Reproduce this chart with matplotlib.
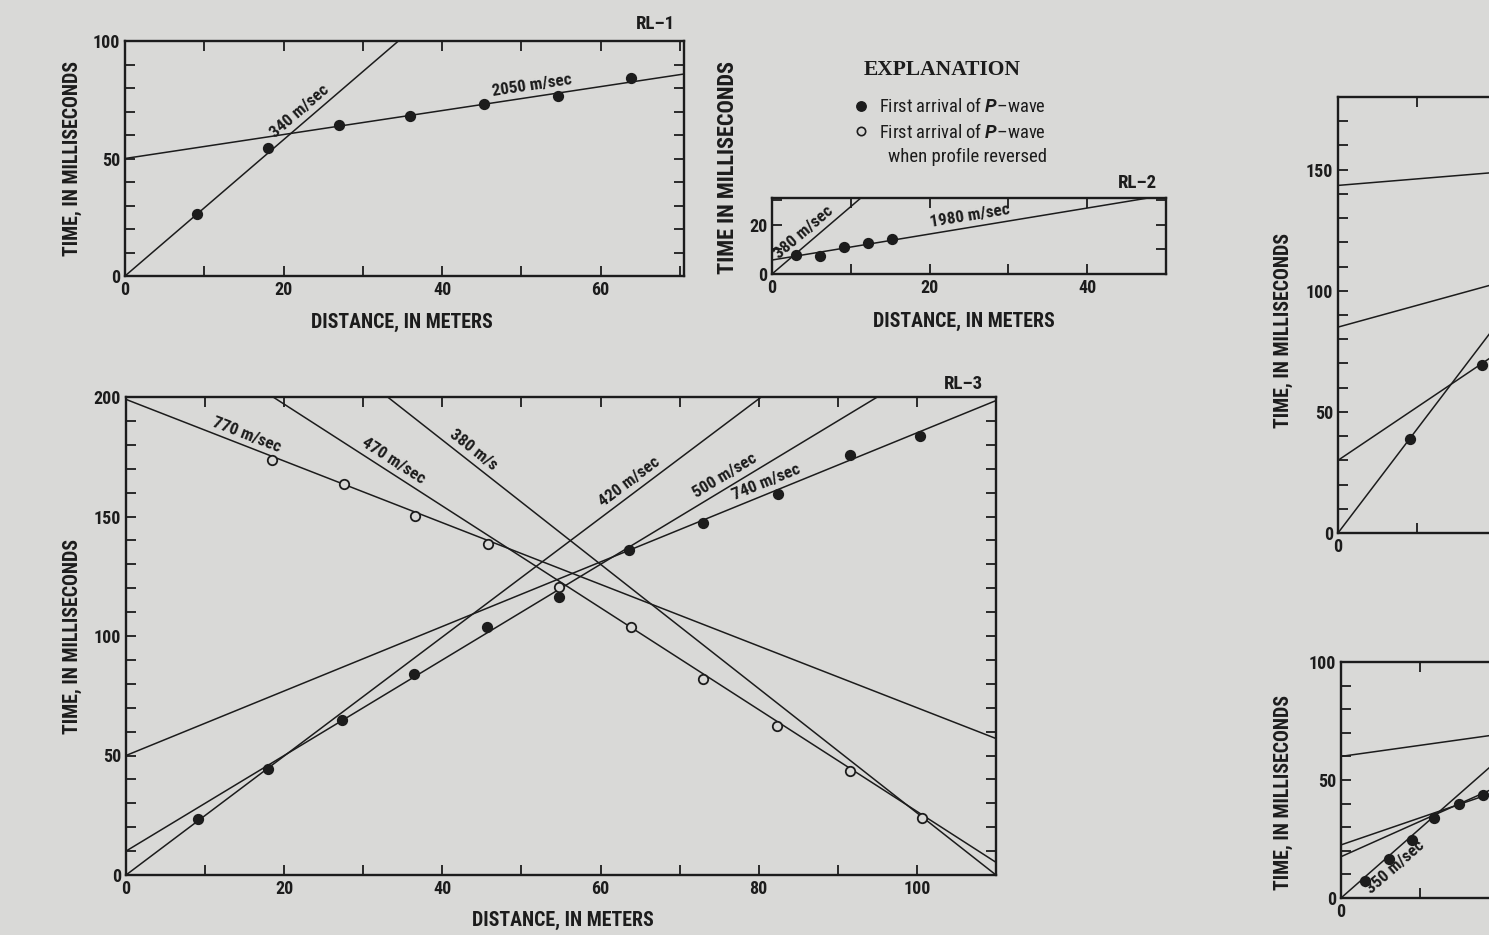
import numpy as np
import matplotlib
matplotlib.use("Agg")
import matplotlib.pyplot as plt

W, H = 1489, 935
BG = "#d9d9d7"
INK = "#1c1c1c"
NARROW = ["Roboto Condensed", "Liberation Sans Narrow", "Roboto", "DejaVu Sans"]

plt.rcParams["font.family"] = NARROW
plt.rcParams["font.weight"] = "bold"
plt.rcParams["mathtext.fontset"] = "custom"
plt.rcParams["mathtext.it"] = "Roboto:italic"
plt.rcParams["mathtext.rm"] = "Roboto"

# ---- data (distance m, time ms) ----
# RL-1
rl1_x = [9.1, 18.0, 27.0, 35.9, 45.3, 54.6, 63.8]
rl1_t = [26.4, 54.5, 64.3, 68.1, 73.2, 76.6, 84.3]
rl1_t0 = [0, 50]
rl1_slope = [2.9, 0.51]
rl1_labels = ["340 m/sec", "2050 m/sec"]
rl1_label_x = [23.0, 51.5]

# RL-2
rl2_x = [3.0, 6.1, 9.2, 12.2, 15.2]
rl2_t = [7.8, 7.3, 11.1, 12.8, 14.2]
rl2_t0 = [0, 5.7]
rl2_slope = [2.75, 0.53]
rl2_labels = ["380 m/sec", "1980 m/sec"]
rl2_label_x = [5.0, 25.3]

# RL-3, forward shot (filled) and reversed shot (open)
rl3_x = [9.1, 18.0, 27.3, 36.4, 45.7, 54.8, 63.6, 73.0, 82.4, 91.5, 100.4]
rl3_t = [23.3, 44.5, 64.9, 84.0, 103.8, 116.4, 136.0, 147.3, 159.3, 175.7, 183.8]
rl3_rev_x = [18.4, 27.5, 36.5, 45.8, 54.8, 63.9, 73.0, 82.3, 91.5, 100.7]
rl3_rev_t = [173.6, 163.5, 150.2, 138.4, 120.6, 103.9, 81.9, 62.2, 43.5, 24.0]
rl3_t0 = [0, 10, 50, 199, 239.6, 286]
rl3_slope = [2.49, 2.0, 1.35, -1.29, -2.13, -2.6]
rl3_labels = ["420 m/sec", "500 m/sec", "740 m/sec", "770 m/sec", "470 m/sec", "380 m/s"]
rl3_label_x = [64.5, 76.5, 81.5, 14.8, 33.0, 43.0]

# partly visible panels on the right edge
ru_x = [9.1, 18.2]
ru_t = [38.8, 69.4]
ru_t0 = [0, 30, 85, 143.5]
ru_slope = [4.3, 2.2, 0.9, 0.27]

rd_x = [3.0, 6.0, 9.0, 11.7, 14.9, 17.9]
rd_t = [7.3, 16.5, 24.6, 34.0, 39.7, 43.6]
rd_t0 = [0, 17.5, 22.5, 60]
rd_slope = [2.95, 1.5, 1.15, 0.47]

TICK_FS = 13
LAB_FS = 14.3
LINE_FS = 12.3


def px_axes(fig, left, top, right, bottom):
    return fig.add_axes([left / W, 1 - bottom / H, (right - left) / W, (bottom - top) / H])


def ftext(fig, x, y, s, **kw):
    kw.setdefault("color", INK)
    kw.setdefault("ha", "center")
    kw.setdefault("va", "center")
    return fig.text(x / W, 1 - y / H, s, **kw)


def style(ax, xmax, ymax, xlab, ylab, xlabmax=None):
    ax.set_facecolor(BG)
    ax.set_xlim(0, xmax)
    ax.set_ylim(0, ymax)
    xt = np.arange(0, xmax + 0.01, 10)
    yt = np.arange(0, ymax + 0.01, 10)
    xlabmax = xmax if xlabmax is None else xlabmax
    ax.set_xticks(xt)
    ax.set_yticks(yt)
    ax.set_xticklabels([str(int(v)) if int(v) % xlab == 0 and v <= xlabmax else "" for v in xt])
    ax.set_yticklabels([str(int(v)) if int(v) % ylab == 0 else "" for v in yt])
    ax.tick_params(direction="in", length=7, width=1.3, top=True, right=True,
                   labelsize=TICK_FS, colors=INK, pad=3.5)
    for s in ax.spines.values():
        s.set_linewidth(1.7)
        s.set_color(INK)


def draw_lines(ax, t0s, slopes, xmax):
    xs = np.array([0, xmax])
    for t0, k in zip(t0s, slopes):
        ax.plot(xs, t0 + k * xs, color=INK, lw=1.1, zorder=2)


def line_labels(ax, t0s, slopes, texts, xs, below=False, gap=2.5):
    for t0, k, s, x in zip(t0s, slopes, texts, xs):
        y = t0 + k * x
        ang = ax.transData.transform_angles(np.array([np.degrees(np.arctan(k))]),
                                            np.array([[x, y]]))[0]
        a = np.radians(ang)
        d = -gap if below else gap
        ax.annotate(s, xy=(x, y), xytext=(-np.sin(a) * d, np.cos(a) * d),
                    textcoords="offset points", rotation=ang, rotation_mode="anchor",
                    ha="center", va="top" if below else "bottom",
                    fontsize=LINE_FS, color=INK, zorder=4)


def dots(ax, x, t, filled=True):
    ax.plot(x, t, "o", ms=6.8, mec=INK, mew=1.3,
            mfc=INK if filled else BG, ls="none", zorder=3)


fig = plt.figure(figsize=(W / 100, H / 100), dpi=100, facecolor=BG)

# RL-1
ax1 = px_axes(fig, 125, 41, 684, 276)
style(ax1, 70.5, 100, 20, 50)
draw_lines(ax1, rl1_t0, rl1_slope, 70.5)
dots(ax1, rl1_x, rl1_t)
line_labels(ax1, rl1_t0, rl1_slope, rl1_labels, rl1_label_x)
ftext(fig, 655, 24, "RL\u20131", fontsize=13.5)
ftext(fig, 72, 159, "TIME, IN MILLISECONDS", rotation=90, fontsize=LAB_FS)
ftext(fig, 402, 322, "DISTANCE, IN METERS", fontsize=LAB_FS)

# RL-2
ax2 = px_axes(fig, 772, 198, 1166, 274)
style(ax2, 50, 31, 20, 20)
draw_lines(ax2, rl2_t0, rl2_slope, 50)
dots(ax2, rl2_x, rl2_t)
line_labels(ax2, rl2_t0, rl2_slope, rl2_labels, rl2_label_x)
ftext(fig, 1137, 183, "RL\u20132", fontsize=13.5)
ftext(fig, 728, 167, "TIME IN MILLISECONDS", rotation=90, fontsize=16)
ftext(fig, 964, 321, "DISTANCE, IN METERS", fontsize=LAB_FS)

# explanation
ftext(fig, 942, 70, "EXPLANATION", fontsize=15.5, fontweight="bold",
      family=["Liberation Serif", "DejaVu Serif"])
fig.lines.append(plt.Line2D([861 / W], [1 - 106 / H], marker="o", ms=6.8, color=INK,
                            transform=fig.transFigure, figure=fig))
fig.lines.append(plt.Line2D([861 / W], [1 - 131 / H], marker="o", ms=6, mfc=BG, mec=INK,
                            mew=1.2, transform=fig.transFigure, figure=fig))
ftext(fig, 879, 106, "First arrival of $\\mathit{P}$\u2013wave", ha="left",
      fontsize=13.3, fontweight="normal")
ftext(fig, 879, 132, "First arrival of $\\mathit{P}$\u2013wave", ha="left",
      fontsize=13.3, fontweight="normal")
ftext(fig, 888, 157, "when profile reversed", ha="left", fontsize=13.5, fontweight="normal")

# RL-3
ax3 = px_axes(fig, 126, 397, 996, 875)
style(ax3, 110, 200, 20, 50)
draw_lines(ax3, rl3_t0, rl3_slope, 110)
dots(ax3, rl3_x, rl3_t)
dots(ax3, rl3_rev_x, rl3_rev_t, filled=False)
line_labels(ax3, rl3_t0, rl3_slope, rl3_labels, rl3_label_x)
ftext(fig, 963, 384, "RL\u20133", fontsize=13.5)
ftext(fig, 72, 637, "TIME, IN MILLISECONDS", rotation=90, fontsize=LAB_FS)
ftext(fig, 563, 920, "DISTANCE, IN METERS", fontsize=LAB_FS)

# right-hand panels, cut by the page edge
ax4 = px_axes(fig, 1338, 97, 1338 + 30 * 7.92, 533)
style(ax4, 30, 180, 20, 50, xlabmax=0)
draw_lines(ax4, ru_t0, ru_slope, 30)
dots(ax4, ru_x, ru_t)
ftext(fig, 1283, 330, "TIME, IN MILLISECONDS", rotation=90, fontsize=LAB_FS)

ax5 = px_axes(fig, 1341, 662, 1341 + 30 * 7.92, 898)
style(ax5, 30, 100, 20, 50, xlabmax=0)
draw_lines(ax5, rd_t0, rd_slope, 30)
dots(ax5, rd_x, rd_t)
line_labels(ax5, [rd_t0[0]], [rd_slope[0]], ["350 m/sec"], [5.8], below=True, gap=4)
ftext(fig, 1283, 793, "TIME, IN MILLISECONDS", rotation=90, fontsize=LAB_FS)

fig.savefig("out.png", dpi=100, facecolor=BG)
